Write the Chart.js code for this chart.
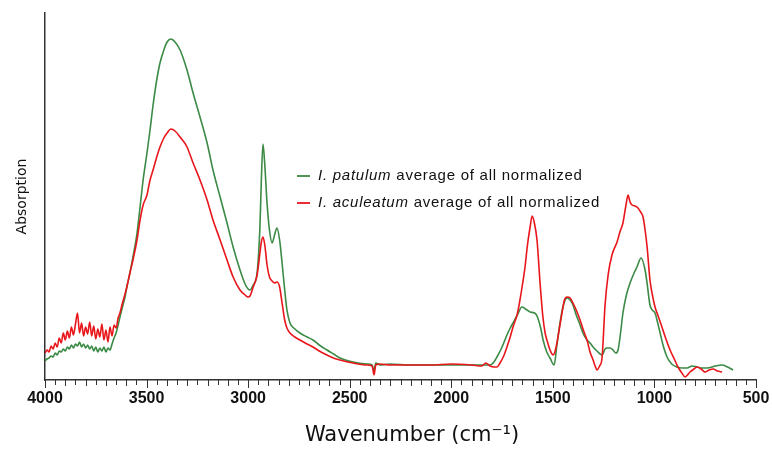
<!DOCTYPE html>
<html><head><meta charset="utf-8">
<script src="https://cdn.jsdelivr.net/npm/chart.js@4.4.1/dist/chart.umd.min.js"></script>
<style>html,body{margin:0;padding:0;background:#fff}#wrap{width:772px;height:450px}</style>
</head><body><div id="wrap"><canvas id="c" width="772" height="450"></canvas></div>
<script>
const xTitle = 'Wavenumber (cm\u207B\u00B9)';
const yTitle = 'Absorption';
const seriesNames = [['I. patulum', ' average of all normalized'], ['I. aculeatum', ' average of all normalized']];

const patulumWn = [4000,3990,3980,3970,3960,3950,3940,3930,3920,3910,3900,3890,3880,3870,3860,3850,3840,3830,3820,3810,3800,3790,3780,3770,3760,3750,3740,3730,3720,3710,3700,3690,3680,3670,3660,3650,3640,3631,3620,3606,3595,3582,3567,3547,3532,3517,3498,3483,3468,3450,3434,3415,3399,3380,3360,3335,3301,3271,3237,3202,3173,3138,3104,3074,3040,3015,3000,2991,2975,2956,2942,2935,2927,2918,2907,2895,2882,2870,2858,2845,2833,2820,2809,2794,2770,2745,2710,2681,2650,2612,2580,2548,2484,2415,2390,2380,2372,2350,2302,2200,2100,2000,1900,1850,1830,1809,1790,1775,1750,1726,1710,1696,1675,1652,1635,1612,1590,1578,1560,1548,1530,1514,1494,1480,1465,1448,1430,1415,1401,1385,1366,1350,1332,1317,1302,1283,1258,1243,1233,1218,1204,1190,1179,1168,1155,1138,1120,1100,1086,1066,1046,1035,1022,1010,997,985,972,955,938,915,889,865,839,815,790,765,741,700,667,640,613];
const patulumAbs = [19,21,22,24,23,27,25,29,28,31,29,33,31,35,32,36,34,38,33,36,32,35,31,34,29,33,28,32,29,33,28,32,30,36,42,47,55,63,72,83,95,107,123,147,173,200,227,250,275,300,317,330,338,341,338,330,310,287,263,237,210,183,157,133,110,96,91,90,95,107,153,200,236,215,177,150,137,145,152,140,117,90,70,57,51,47,43,40,35,30,26,22,18,16,15,9,17,15,16,15,15,15,15,15,15,15,18,23,33,45,52,57,65,73,71,68,67,64,52,40,28,22,15,35,57,75,82,80,75,65,55,46,40,37,33,29,25,31,32,32,30,27,30,45,67,85,97,107,113,122,110,95,75,70,67,58,47,33,23,16,13,12,12,14,13,12,12,14,15,13,10];

const aculeatumWn = [4000,3990,3980,3970,3960,3950,3940,3930,3920,3910,3900,3890,3880,3870,3860,3850,3840,3830,3820,3810,3800,3790,3780,3770,3760,3750,3740,3730,3720,3710,3700,3690,3680,3670,3660,3650,3640,3631,3620,3606,3595,3582,3567,3547,3532,3517,3498,3483,3468,3450,3434,3415,3399,3380,3360,3335,3301,3271,3237,3202,3173,3138,3104,3074,3040,3015,3000,2991,2975,2956,2942,2935,2927,2918,2907,2895,2882,2870,2858,2845,2833,2820,2809,2794,2770,2745,2710,2681,2650,2612,2580,2548,2484,2415,2390,2380,2372,2350,2302,2200,2100,2000,1900,1850,1830,1809,1790,1775,1760,1740,1726,1710,1696,1675,1662,1650,1637,1625,1612,1602,1592,1578,1563,1550,1538,1525,1514,1499,1490,1480,1465,1455,1443,1430,1415,1401,1385,1366,1350,1332,1317,1302,1292,1283,1270,1258,1243,1228,1209,1184,1170,1155,1140,1130,1120,1110,1095,1081,1068,1056,1046,1036,1022,1010,997,980,963,945,923,900,884,865,849,837,825,805,790,770,751,730,711,690,667];
const aculeatumAbs = [27,30,28,34,31,37,33,42,37,47,40,49,42,53,45,56,67,47,57,44,53,46,58,44,54,41,51,43,56,40,50,38,53,44,55,52,62,67,76,86,95,107,120,140,160,175,185,200,210,223,233,242,247,251,249,243,233,217,200,180,160,140,120,103,90,85,83,84,93,105,127,138,143,135,115,103,99,97,98,93,77,60,52,47,43,40,36,33,29,25,22,20,17,15,14,5,15,16,15,15,15,16,15,14,17,14,13,13,17,25,33,43,53,66,80,95,113,135,153,164,158,140,97,65,47,37,30,25,28,37,55,67,80,83,82,77,70,60,50,40,28,20,14,10,14,22,75,105,125,138,148,157,175,185,178,175,174,172,168,163,150,133,100,85,73,63,53,42,30,20,13,7,3,5,8,11,13,11,8,10,11,9,8];

const xMin = 500, xMax = 4000, xMajor = 500, xMinor = 50;
const yMin = 0, yMax = 367;

const toPts = (wn, v) => wn.map((x, i) => ({x: x, y: v[i]}));
const greenColor = '#3b8a45';
const redColor = '#e8161b';

const minorTicks = {
  id: 'minorTicks',
  afterDraw(chart) {
    const ctx = chart.ctx, sx = chart.scales.x, y0 = chart.chartArea.bottom;
    ctx.save();
    ctx.strokeStyle = '#333';
    ctx.lineWidth = 1;
    for (let v = xMin; v <= xMax; v += xMinor) {
      const px = Math.round(sx.getPixelForValue(v)) + 0.5;
      const len = (v % xMajor === 0) ? 8 : (v % 100 === 0 ? 6 : 5);
      ctx.beginPath(); ctx.moveTo(px, y0); ctx.lineTo(px, y0 + len); ctx.stroke();
    }
    // x-axis title
    ctx.fillStyle = '#111';
    ctx.font = '21px "DejaVu Sans", Verdana, sans-serif';
    ctx.textAlign = 'center'; ctx.textBaseline = 'middle';
    ctx.fillText(xTitle, 412, 436);
    ctx.restore();
  }
};

const customLegend = {
  id: 'customLegend',
  afterDraw(chart) {
    const ctx = chart.ctx;
    const rows = [{y: 176, c: greenColor, t: seriesNames[0]}, {y: 203, c: redColor, t: seriesNames[1]}];
    ctx.save();
    try { ctx.letterSpacing = '0.75px'; } catch (e) {}
    rows.forEach(r => {
      ctx.strokeStyle = r.c; ctx.lineWidth = 1.8;
      ctx.beginPath(); ctx.moveTo(297, r.y); ctx.lineTo(310, r.y); ctx.stroke();
      ctx.fillStyle = '#111'; ctx.textBaseline = 'middle'; ctx.textAlign = 'left';
      ctx.font = 'italic 15px "Liberation Sans", Arial, sans-serif';
      ctx.fillText(r.t[0], 318, r.y);
      const w = ctx.measureText(r.t[0]).width;
      ctx.font = '15px "Liberation Sans", Arial, sans-serif';
      ctx.fillText(r.t[1], 318 + w, r.y);
    });
    ctx.restore();
  }
};

new Chart(document.getElementById('c'), {
  type: 'line',
  data: {
    datasets: [
      {label: seriesNames[0].join(''), data: toPts(patulumWn, patulumAbs), borderColor: greenColor, borderWidth: 1.6, pointRadius: 0, cubicInterpolationMode: 'monotone', order: 1},
      {label: seriesNames[1].join(''), data: toPts(aculeatumWn, aculeatumAbs), borderColor: redColor, borderWidth: 1.6, pointRadius: 0, cubicInterpolationMode: 'monotone', order: 0}
    ]
  },
  options: {
    responsive: false,
    animation: false,
    layout: {padding: {top: 13, right: 16, bottom: 0, left: 0}},
    plugins: {legend: {display: false}, tooltip: {enabled: false}},
    scales: {
      x: {
        type: 'linear', reverse: true, min: xMin, max: xMax,
        grid: {display: false, drawTicks: false},
        border: {display: true, color: '#333', width: 1.5},
        ticks: {stepSize: xMajor, autoSkip: false, maxRotation: 0, padding: 9, color: '#111',
                callback: (v) => String(v),
                font: {family: '"Liberation Sans Narrow", "Liberation Sans", Arial, sans-serif', size: 16, weight: 'bold'}},
        title: {display: false},
        afterFit(s) { s.height = 70; s.paddingRight = 0; s.paddingLeft = 0; }
      },
      y: {
        min: yMin, max: yMax,
        grid: {display: false, drawTicks: false},
        border: {display: true, color: '#333', width: 1.5},
        ticks: {display: false},
        title: {display: true, text: yTitle, color: '#111', padding: {top: 14, bottom: 0},
                font: {family: '"DejaVu Sans", Verdana, sans-serif', size: 14}},
        afterFit(s) { s.width = 45; s.paddingTop = 0; s.paddingBottom = 0; }
      }
    }
  },
  plugins: [minorTicks, customLegend]
});
</script></body></html>
